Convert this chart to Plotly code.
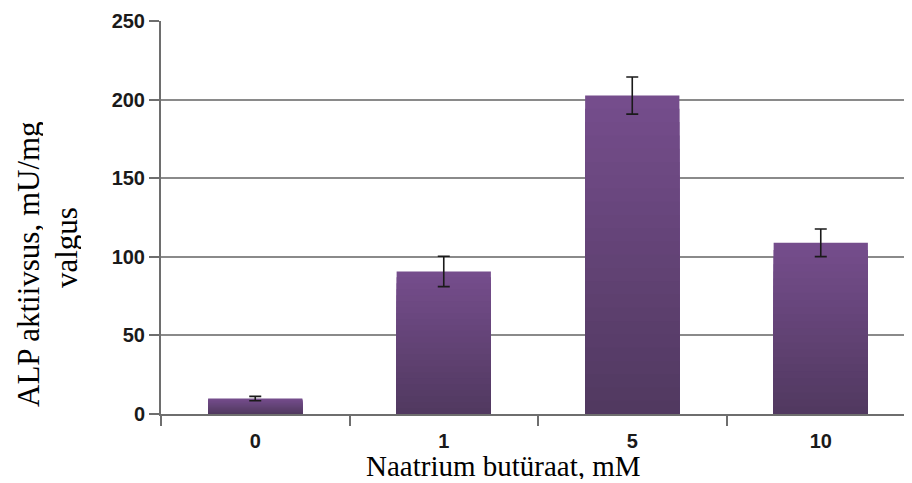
import plotly.graph_objects as go

categories = ["0", "1", "5", "10"]
values = [9.8, 90.8, 202.8, 109.0]
errors = [1.4, 9.7, 11.8, 8.8]
y_ticks = [0, 50, 100, 150, 200, 250]

x_title = "Naatrium butüraat, mM"
y_title_1 = "ALP aktiivsus, mU/mg"
y_title_2 = "valgus"

top_col = (0x75, 0x4D, 0x8C)
bot_col = (0x51, 0x39, 0x60)
N = 24

# page has an 8px body margin: figure origin is at page (8, 8)
W, H = 904, 475
L, R, T, B = 153, 0, 13, 69
PW, PH = W - L - R, H - T - B


def px(xp):
    return (xp - 8 - L) / PW


def py(yp):
    return (H - (yp - 8) - B) / PH


fig = go.Figure()
for k in range(N):
    frac = 1 - k / N
    t = k / (N - 1)
    c = tuple(round(top_col[i] + (bot_col[i] - top_col[i]) * t) for i in range(3))
    fig.add_trace(go.Bar(
        x=categories, y=[v * frac for v in values],
        width=0.5, marker=dict(color="rgb(%d,%d,%d)" % c, line=dict(width=0)),
        showlegend=False, hoverinfo="skip",
    ))
fig.add_trace(go.Scatter(
    x=categories, y=values, mode="markers", marker=dict(size=0.1, color="rgba(0,0,0,0)"),
    error_y=dict(type="data", array=errors, color="#1a1a1a", thickness=1.6, width=6),
    showlegend=False, hoverinfo="skip",
))

tick_font = dict(family="Liberation Sans", size=20, color="#1a1a1a", weight="bold")
title_font = dict(family="Liberation Serif", size=31, color="black")
xtitle_font = dict(family="Liberation Serif", size=29, color="black")

fig.update_layout(
    width=W, height=H,
    margin=dict(l=L, r=R, t=T, b=B),
    paper_bgcolor="white", plot_bgcolor="white",
    barmode="overlay",
    xaxis=dict(
        type="category", range=[-0.5, 3.484], tickson="boundaries",
        showline=True, linecolor="#6e6e6e", linewidth=2,
        ticks="outside", ticklen=10, tickwidth=2, tickcolor="#6e6e6e",
        showgrid=False, zeroline=False,
        tickfont=tick_font, ticklabelstandoff=8,
    ),
    yaxis=dict(
        range=[0, 250.3], tickvals=y_ticks,
        showline=True, linecolor="#6e6e6e", linewidth=2,
        ticks="outside", ticklen=10, tickwidth=2, tickcolor="#6e6e6e",
        showgrid=True, gridcolor="#8a8a8a", gridwidth=2, zeroline=False,
        tickfont=tick_font,
    ),
    annotations=[
        dict(text=x_title, xref="paper", yref="paper", x=px(503.5), y=py(466),
             showarrow=False, xanchor="center", yanchor="middle", height=26, font=xtitle_font),
        dict(text=y_title_1, xref="paper", yref="paper", x=px(28), y=py(264),
             showarrow=False, xanchor="center", yanchor="middle", textangle=-90, height=30,
             font=title_font),
        dict(text=y_title_2, xref="paper", yref="paper", x=px(66), y=py(248),
             showarrow=False, xanchor="center", yanchor="middle", textangle=-90, height=30,
             font=title_font),
    ],
)

fig.write_html("out.html")
